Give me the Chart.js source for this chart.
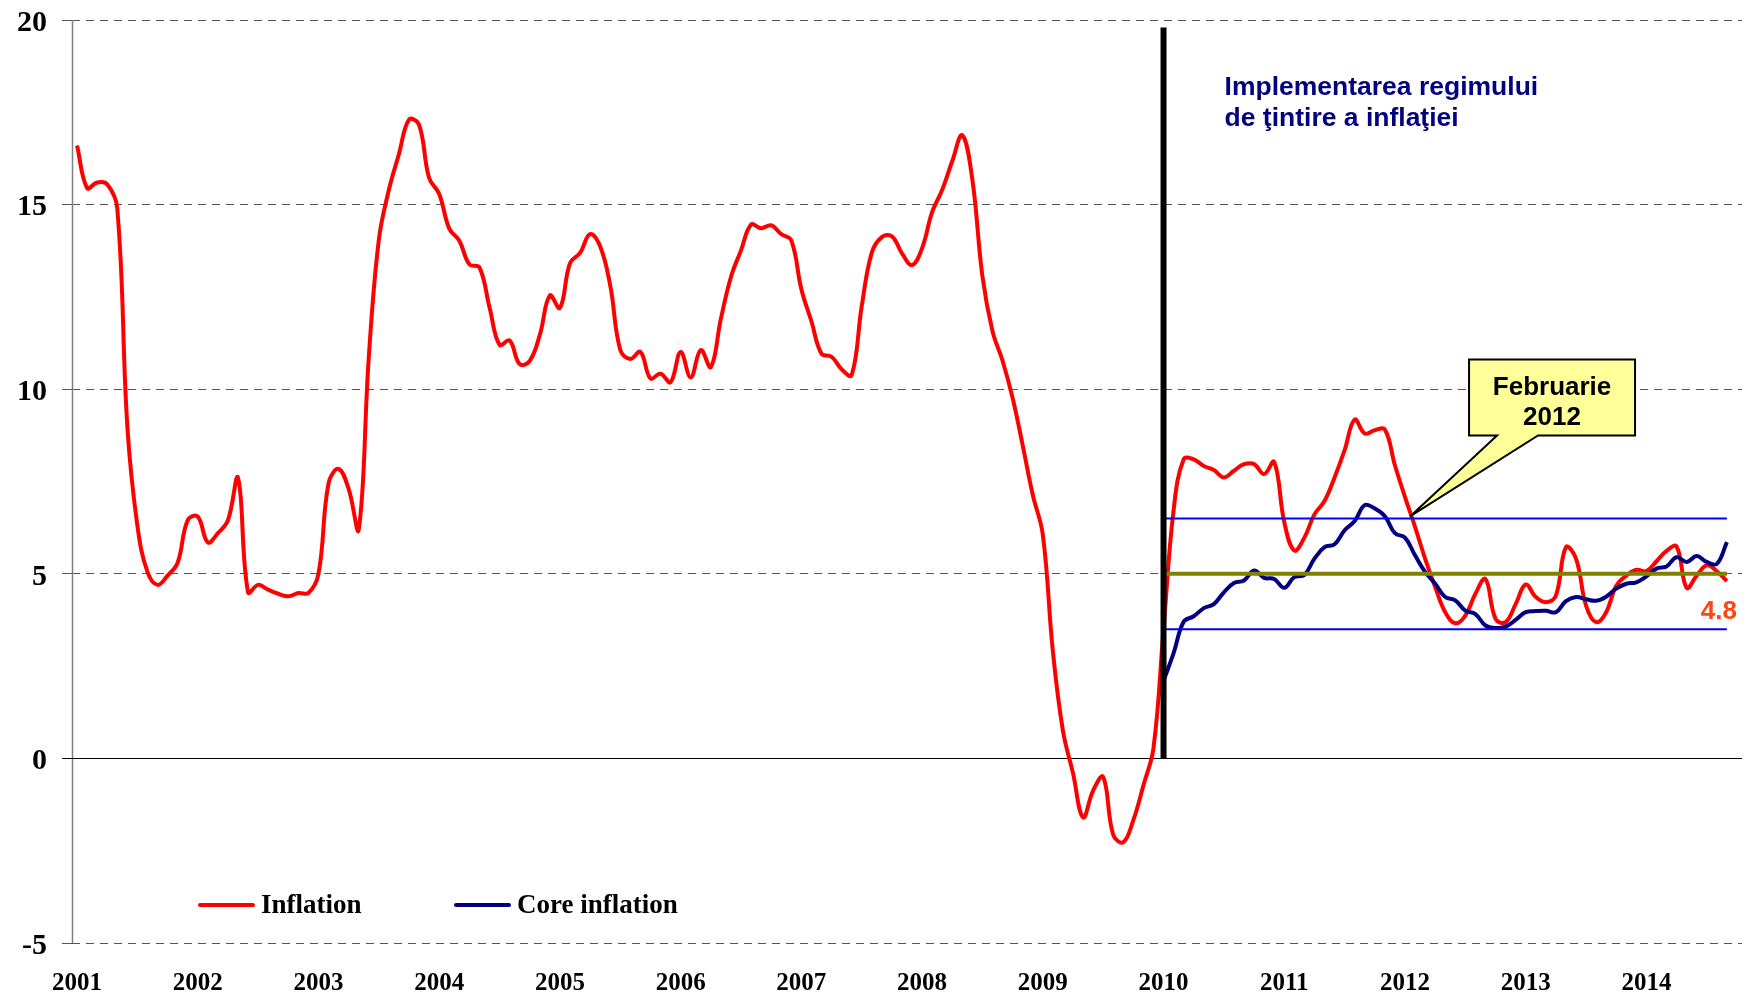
<!DOCTYPE html>
<html>
<head>
<meta charset="utf-8">
<script src="https://cdn.jsdelivr.net/npm/chart.js@4.4.1/dist/chart.umd.min.js"></script>
<style>
html,body{margin:0;padding:0;background:#fff;overflow:hidden}
#wrap{position:relative;width:1746px;height:996px}
</style>
</head>
<body>
<div id="wrap"><canvas id="c" width="1746" height="996"></canvas></div>
<script>
// ---- categories ----
const years = ['2001','2002','2003','2004','2005','2006','2007','2008','2009','2010','2011','2012','2013','2014'];
const monthNums = ['01','02','03','04','05','06','07','08','09','10','11','12'];
const lastMonth = '2014-10'; // last category on the axis (no data yet)

// ---- series values (annual %, monthly) ----
const inflation = [
  16.6, 15.45, 15.6, 15.55, 14.9, 9.0, 6.3, 5.05, 4.7, 4.95, 5.3, 6.45,          // 2001
  6.55, 5.85, 6.1, 6.45, 7.6, 4.5, 4.7, 4.57, 4.46, 4.39, 4.48, 4.48,            // 2002
  5.0, 7.45, 7.84, 7.3, 6.2, 10.86, 14.05, 15.4, 16.37, 17.3, 17.16, 15.72,      // 2003
  15.29, 14.35, 14.02, 13.38, 13.3, 12.22, 11.2, 11.32, 10.68, 10.77, 11.47, 12.54, // 2004
  12.2, 13.41, 13.69, 14.2, 13.87, 12.81, 11.06, 10.82, 11.01, 10.29, 10.42, 10.19, // 2005
  11.01, 10.32, 11.06, 10.6, 11.91, 13.04, 13.76, 14.46, 14.36, 14.44, 14.2, 14.03, // 2006
  12.71, 11.84, 10.96, 10.88, 10.54, 10.38, 12.25, 13.7, 14.12, 14.14, 13.68, 13.36, // 2007
  13.82, 14.8, 15.4, 16.18, 16.88, 15.67, 13.05, 11.57, 10.77, 9.76, 8.48, 7.14,  // 2008
  6.06, 2.9, 0.75, -0.4, -1.6, -0.87, -0.5, -2.07, -2.27, -1.67, -0.73, 0.28,     // 2009
  3.5, 6.72, 8.1, 8.1, 7.92, 7.81, 7.61, 7.79, 7.97, 7.97, 7.7, 8.03,            // 2010
  6.4, 5.63, 5.98, 6.61, 6.97, 7.61, 8.35, 9.18, 8.8, 8.89, 8.91, 7.94,          // 2011
  7.08, 6.27, 5.41, 4.64, 3.96, 3.66, 3.87, 4.46, 4.86, 3.78, 3.69, 4.18,        // 2012
  4.71, 4.37, 4.23, 4.41, 5.72, 5.41, 4.14, 3.69, 3.96, 4.68, 4.95, 5.11,        // 2013
  5.07, 5.34, 5.62, 5.74, 4.62, 4.95, 5.23, 5.07, 4.8                            // 2014 (Jan-Sep)
];
const coreStart = '2010-01';
const coreInflation = [
  2.1, 2.85, 3.7, 3.85, 4.07, 4.18, 4.5, 4.75, 4.82, 5.09, 4.89, 4.86,          // 2010
  4.62, 4.91, 4.97, 5.41, 5.72, 5.8, 6.18, 6.43, 6.86, 6.77, 6.56, 6.1,          // 2011
  5.98, 5.5, 5.05, 4.73, 4.37, 4.28, 4.0, 3.91, 3.6, 3.53, 3.57, 3.75,           // 2012
  3.96, 3.99, 4.0, 3.96, 4.26, 4.37, 4.31, 4.27, 4.38, 4.6, 4.73, 4.77,          // 2013
  4.93, 5.14, 5.2, 5.45, 5.32, 5.48, 5.32, 5.27, 5.86                            // 2014
];
// inflation target 5% with +/-1.5 pp corridor, from the start of targeting
const targetBand = [3.5, 5.0, 6.5];
const targetingStart = '2010-01';
const regimeLineTop = 19.8;
const calloutMonth = '2012-02';
const calloutLevel = 6.5;

// y axis ticks
const yTicks = [-5, 0, 5, 10, 15, 20];

// ---- build category labels ----
const categories = [];
for (const yr of years) {
  for (const m of monthNums) {
    const k = yr + '-' + m;
    categories.push(k);
    if (k === lastMonth) break;
  }
}
const coreData = categories.map(() => null);
const coreIdx0 = categories.indexOf(coreStart);
coreInflation.forEach((v, i) => { coreData[coreIdx0 + i] = v; });

const SERIF = '"Liberation Serif", "Times New Roman", serif';
const SANS = '"Liberation Sans", Arial, sans-serif';

function zeroPadding(scale) {
  scale.paddingLeft = 0; scale.paddingRight = 0;
  scale.paddingTop = 0; scale.paddingBottom = 0;
}

const overlay = {
  id: 'overlay',
  beforeDatasetsDraw(chart) {
    const {ctx, chartArea: a, scales: {x, y}} = chart;
    ctx.save();
    // y axis line
    ctx.strokeStyle = '#808080';
    ctx.lineWidth = 1.5;
    ctx.beginPath();
    ctx.moveTo(a.left + 0.5, y.getPixelForValue(20));
    ctx.lineTo(a.left + 0.5, y.getPixelForValue(-5));
    ctx.stroke();
    // zero line
    const y0 = Math.round(y.getPixelForValue(0)) + 0.5;
    ctx.strokeStyle = '#000';
    ctx.lineWidth = 1;
    ctx.beginPath();
    ctx.moveTo(a.left - 10, y0);
    ctx.lineTo(a.right, y0);
    ctx.stroke();
    ctx.restore();
  },
  afterDatasetsDraw(chart) {
    const {ctx, chartArea: a, scales: {x, y}} = chart;
    ctx.save();
    const iStart = categories.indexOf(targetingStart);
    const iEnd = inflation.length - 1;
    const xs = x.getPixelForValue(iStart);
    const xe = x.getPixelForValue(iEnd);
    // corridor lines
    ctx.lineCap = 'butt';
    ctx.strokeStyle = '#0000FF';
    ctx.lineWidth = 2;
    [targetBand[0], targetBand[2]].forEach(v => {
      const yy = y.getPixelForValue(v);
      ctx.beginPath(); ctx.moveTo(xs, yy); ctx.lineTo(xe, yy); ctx.stroke();
    });
    ctx.strokeStyle = '#808000';
    ctx.lineWidth = 4;
    const yt = y.getPixelForValue(targetBand[1]);
    ctx.beginPath(); ctx.moveTo(xs, yt); ctx.lineTo(xe, yt); ctx.stroke();

    // regime change vertical line
    ctx.strokeStyle = '#000';
    ctx.lineWidth = 6;
    ctx.beginPath();
    ctx.moveTo(xs, y.getPixelForValue(regimeLineTop));
    ctx.lineTo(xs, y.getPixelForValue(0));
    ctx.stroke();

    // regime annotation text
    ctx.fillStyle = '#000080';
    ctx.font = 'bold 26.5px ' + SANS;
    ctx.textAlign = 'left';
    ctx.textBaseline = 'middle';
    ctx.fillText('Implementarea regimului', xs + 61, 88);
    ctx.fillText('de ţintire a inflaţiei', xs + 61, 119);

    // callout
    const tx = x.getPixelForValue(categories.indexOf(calloutMonth)) - 5;
    const ty = y.getPixelForValue(calloutLevel) - 2;
    const bl = tx + 59, br = tx + 225, bt = ty - 157, bb = ty - 81;
    ctx.beginPath();
    ctx.moveTo(bl, bt);
    ctx.lineTo(br, bt);
    ctx.lineTo(br, bb);
    ctx.lineTo(tx + 128, bb);
    ctx.lineTo(tx, ty);
    ctx.lineTo(tx + 87, bb);
    ctx.lineTo(bl, bb);
    ctx.closePath();
    ctx.fillStyle = '#FFFF99';
    ctx.fill();
    ctx.lineWidth = 2;
    ctx.strokeStyle = '#000';
    ctx.lineJoin = 'miter';
    ctx.stroke();
    ctx.fillStyle = '#000';
    ctx.font = 'bold 26px ' + SANS;
    ctx.textAlign = 'center';
    ctx.fillText('Februarie', (bl + br) / 2, bt + 28);
    ctx.fillText('2012', (bl + br) / 2, bt + 58);

    // last value label
    const lastV = inflation[iEnd];
    ctx.fillStyle = '#FF4514';
    ctx.font = 'bold 26px ' + SANS;
    ctx.textAlign = 'center';
    ctx.fillText(lastV.toFixed(1), xe - 8, y.getPixelForValue(lastV) + 31);

    // legend
    const items = [
      {label: 'Inflation', color: '#FF0000', x0: 200},
      {label: 'Core inflation', color: '#000080', x0: 456}
    ];
    ctx.font = 'bold 27px ' + SERIF;
    ctx.textAlign = 'left';
    items.forEach(it => {
      ctx.strokeStyle = it.color;
      ctx.lineWidth = 4;
      ctx.lineCap = 'round';
      ctx.beginPath(); ctx.moveTo(it.x0, 905); ctx.lineTo(it.x0 + 53, 905); ctx.stroke();
      ctx.fillStyle = '#000';
      ctx.fillText(it.label, it.x0 + 61, 906);
    });
    ctx.restore();
  }
};

new Chart(document.getElementById('c'), {
  type: 'line',
  data: {
    labels: categories,
    datasets: [
      {
        label: 'Inflation',
        data: inflation,
        borderColor: '#FF0000',
        borderWidth: 4,
        pointRadius: 0,
        tension: 0.4,
        fill: false,
        order: 1
      },
      {
        label: 'Core inflation',
        data: coreData,
        borderColor: '#000080',
        borderWidth: 4,
        pointRadius: 0,
        tension: 0.4,
        fill: false,
        order: 0
      }
    ]
  },
  options: {
    responsive: false,
    animation: false,
    devicePixelRatio: 1,
    layout: {padding: {top: 20, right: 4, bottom: 0, left: 0}},
    plugins: {legend: {display: false}, tooltip: {enabled: false}},
    scales: {
      x: {
        type: 'category',
        offset: true,
        grid: {display: false, drawTicks: false, tickLength: 0},
        border: {display: false},
        ticks: {
          autoSkip: false,
          maxRotation: 0,
          minRotation: 0,
          padding: 26,
          color: '#000',
          font: {family: SERIF, size: 25, weight: 'bold'},
          callback: function (value) {
            const l = this.getLabelForValue(value);
            return l.endsWith('-01') ? l.slice(0, 4) : '';
          }
        },
        afterFit(scale) { scale.height = 53; zeroPadding(scale); }
      },
      y: {
        min: yTicks[0],
        max: yTicks[yTicks.length - 1],
        afterBuildTicks(scale) { scale.ticks = yTicks.map(v => ({value: v})); },
        grid: {
          color: '#555',
          lineWidth: 1,
          drawTicks: true,
          tickLength: 10,
          tickColor: '#555',
          tickBorderDash: [],
          borderDash: [8, 6]
        },
        border: {display: false, dash: [8, 6]},
        ticks: {
          padding: 15,
          labelOffset: 3,
          color: '#000',
          font: {family: SERIF, size: 30, weight: 'bold'}
        },
        afterFit(scale) { scale.width = 72; zeroPadding(scale); }
      }
    }
  },
  plugins: [overlay]
});
</script>
</body>
</html>
